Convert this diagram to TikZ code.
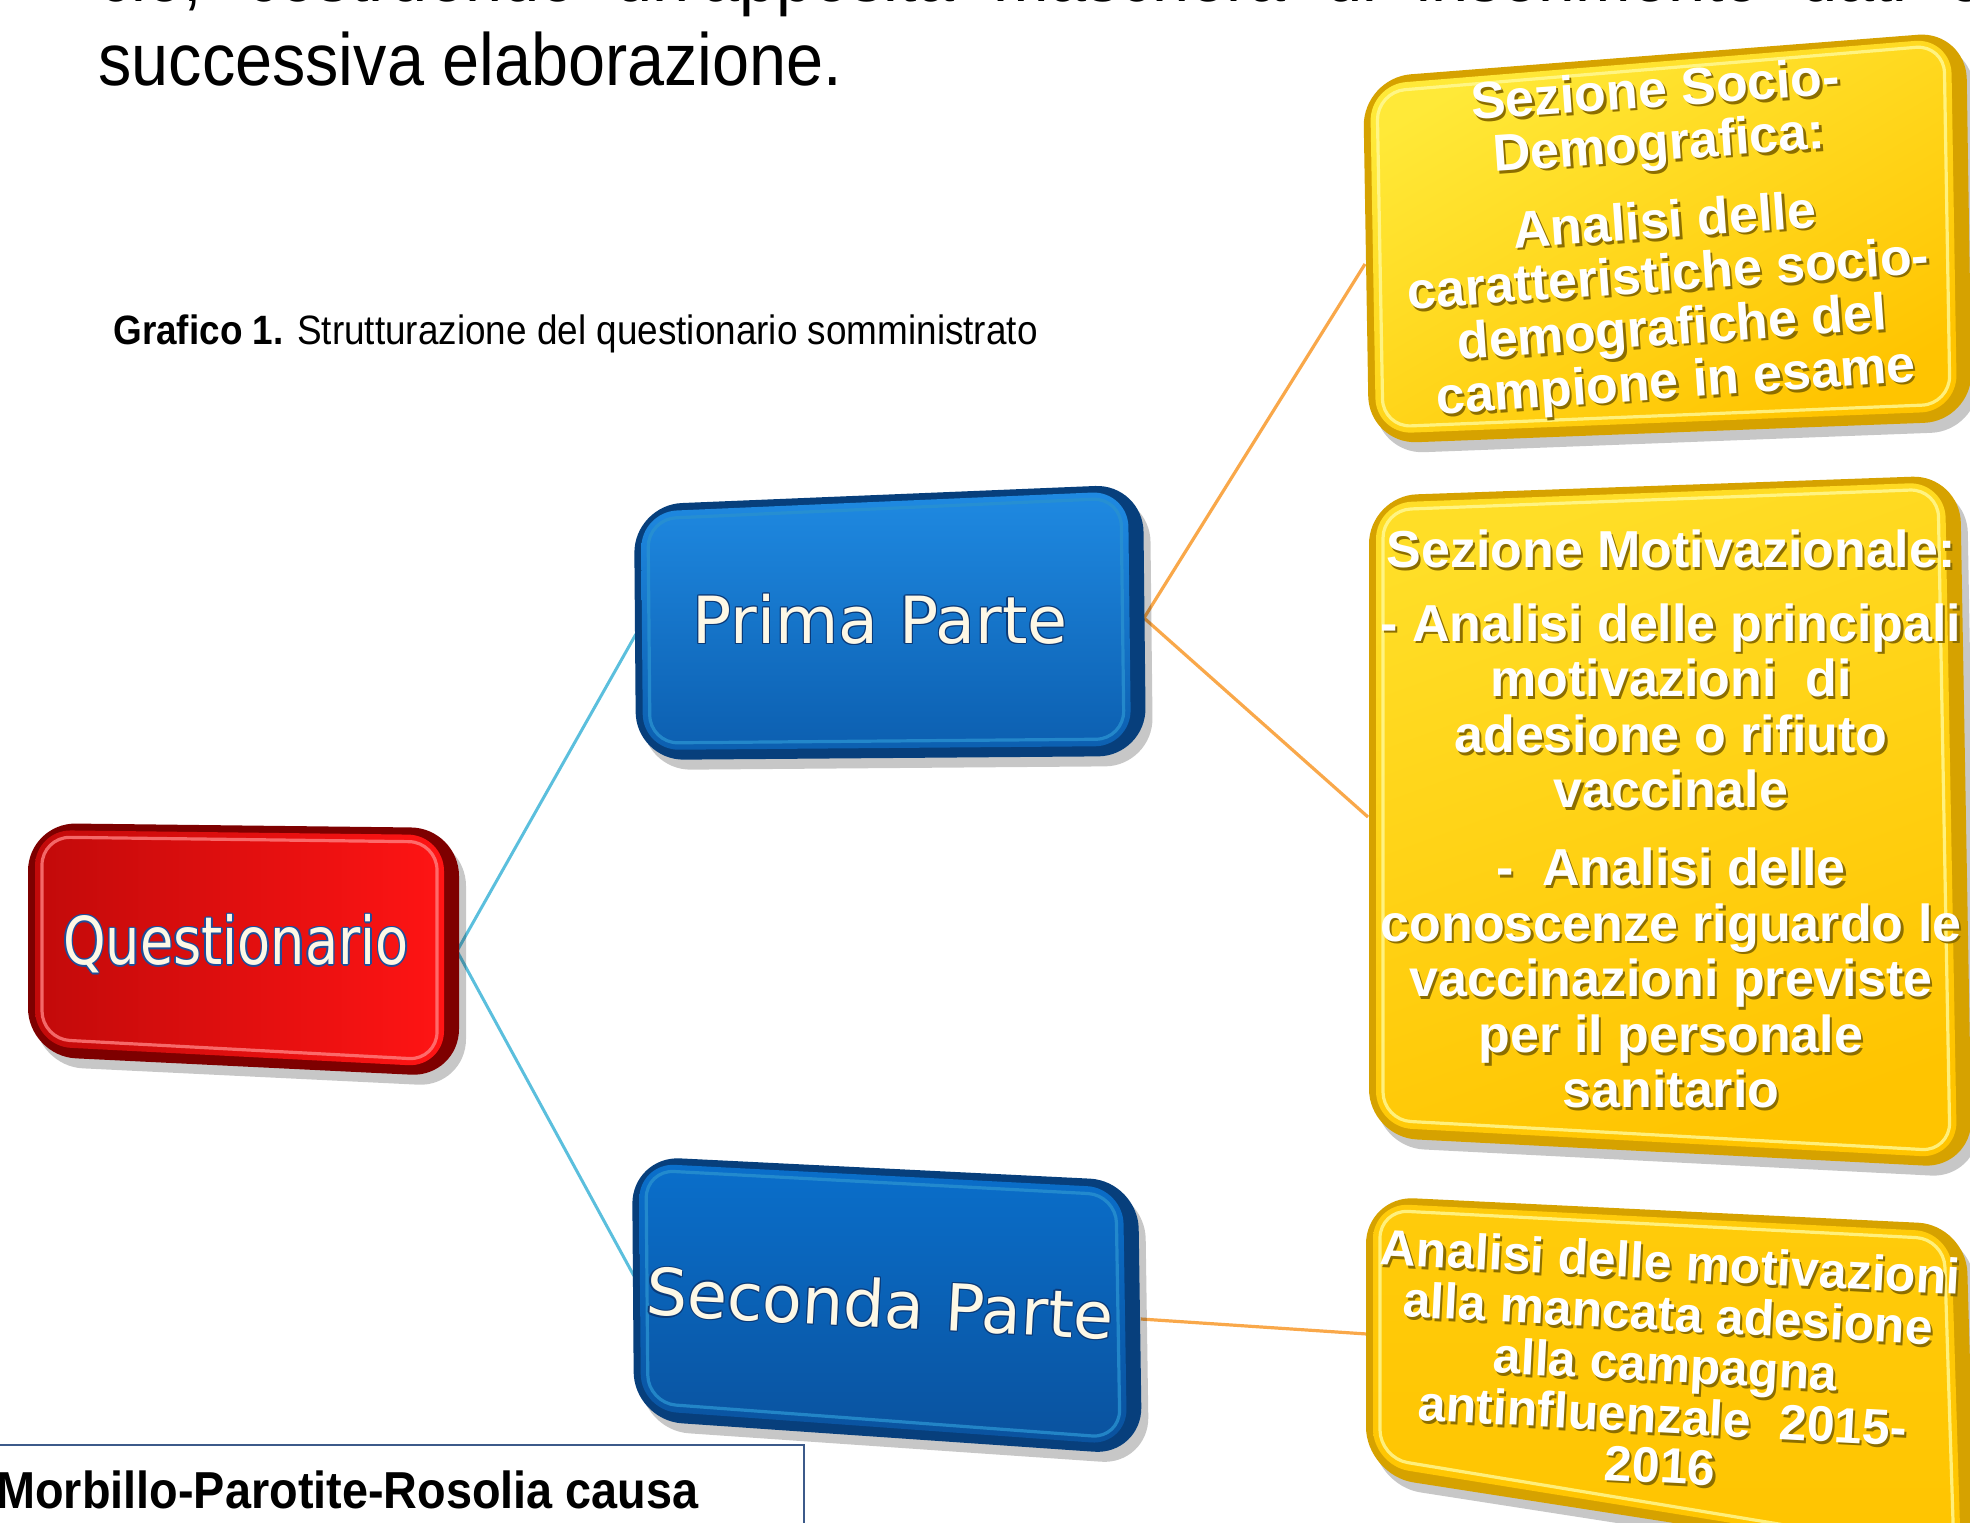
\documentclass[tikz,border=0pt]{standalone}
\usepackage{fontspec}
\setmainfont{Liberation Sans}
\newfontfamily\docfont[FakeStretch=0.9]{Liberation Sans}
\newfontfamily\boxfont{DejaVu Sans}
\newfontfamily\yfont{Liberation Sans}
\usetikzlibrary{calc}
\definecolor{redEdge}{HTML}{7E0000}
\definecolor{redL}{HTML}{C20A0A}
\definecolor{redR}{HTML}{FF1414}
\definecolor{blueEdge}{HTML}{073F7C}
\definecolor{blueT}{HTML}{1F8AE2}
\definecolor{blueB}{HTML}{0C5FB0}
\definecolor{blueT2}{HTML}{0A6FCB}
\definecolor{blueB2}{HTML}{0A529E}
\definecolor{yelEdge}{HTML}{D6A200}
\definecolor{yelT}{HTML}{FFE938}
\definecolor{yelB}{HTML}{FFC400}
\definecolor{yshC}{HTML}{8C6E00}
\definecolor{cyanL}{HTML}{5BBFDD}
\definecolor{orgL}{HTML}{F9A84A}
\definecolor{cream}{HTML}{FDF8E6}
\definecolor{outlB}{HTML}{1F4E9A}
\definecolor{outlN}{HTML}{0B3A78}
\definecolor{frameB}{HTML}{3C5A8A}
\newlength\olw
\newcommand\ocp[3]{\makebox[0pt][l]{\hspace*{#1}\raisebox{#2}{#3}}}
\newcommand\outl[4]{\setlength\olw{#1}%
 {\color{#2}\ocp{\olw}{0pt}{#4}\ocp{-\olw}{0pt}{#4}\ocp{0pt}{\olw}{#4}\ocp{0pt}{-\olw}{#4}%
 \ocp{.7\olw}{.7\olw}{#4}\ocp{-.7\olw}{.7\olw}{#4}\ocp{.7\olw}{-.7\olw}{#4}\ocp{-.7\olw}{-.7\olw}{#4}}%
 {\color{#3}#4}}
% white multi-line text with a dark drop shadow, in one box
\newcommand\ysh[1]{%
 \makebox[0pt][l]{\hspace*{1.1pt}\raisebox{-1.4pt}{\color{yshC}\begin{tabular}{@{}c@{}}#1\end{tabular}}}%
 \begin{tabular}{@{}c@{}}#1\end{tabular}}
\newcommand\tdbox[6]{%
 \fill[black,opacity=.22,rounded corners=24] ($#1+(7,10)$) -- ($#2+(7,10)$) -- ($#3+(7,10)$) -- ($#4+(7,10)$) -- cycle;
 \fill[#5,rounded corners=24] #1 -- #2 -- #3 -- #4 -- cycle;
 \shade[#6,rounded corners=18] ($#1+(7,7)$) -- ($#2+(-15,7)$) -- ($#3+(-15,-10)$) -- ($#4+(7,-10)$) -- cycle;}
\newcommand\tdhl[5]{%
 \draw[#5,line width=1.6,rounded corners=14,opacity=.8] ($#1+(14,14)$) -- ($#2+(-22,14)$) -- ($#3+(-22,-17)$) -- ($#4+(14,-17)$) -- cycle;}
\tikzset{
  doc/.style={inner sep=0,anchor=base west},
  ylab/.style={font=\yfont\bfseries\fontsize{26}{26.5}\selectfont,text=white,inner sep=0},
  bluelab/.style={font=\boxfont\fontsize{32.5}{36}\selectfont,inner sep=0},
  cyanconn/.style={cyanL,line width=1.5},
  orgconn/.style={orgL,line width=1.6}
}
\begin{document}
\begin{tikzpicture}[x=0.5pt,y=-0.5pt]
\useasboundingbox (0,0) rectangle (1970,1522);
\clip (0,0) rectangle (1970,1522);
\fill[white] (0,0) rectangle (1970,1522);

% document text
\node[doc,font=\docfont\fontsize{37}{40}\selectfont] (l0) at (98,1) {\makebox[943pt][s]{ciò, costruendo un'apposita maschera di inserimento dati e}};
\node[doc,font=\docfont\fontsize{37}{40}\selectfont] (l1) at (98,85) {successiva elaborazione.};
\node[doc,font=\docfont\fontsize{20.5}{24}\selectfont] (cap) at (113,344) {\textbf{Grafico 1.} Strutturazione del questionario somministrato};
\draw[frameB,line width=0.8] (-5,1445) rectangle (804,1545);
\node[doc,font=\docfont\bfseries\fontsize{26}{30}\selectfont] (mpr) at (-4,1508) {Morbillo-Parotite-Rosolia causa};

% connector end points
\coordinate (q-e) at (457,951);
\coordinate (p1-w) at (636,634);
\coordinate (p1-e) at (1144,618);
\coordinate (p2-w) at (634,1276);
\coordinate (p2-e) at (1141,1319);
\coordinate (y1-w) at (1365,264);
\coordinate (y2-w) at (1368,817);
\coordinate (y3-w) at (1367,1334);

% connectors
\draw[cyanconn] (q-e) -- (p1-w);
\draw[cyanconn] (q-e) -- (p2-w);
\draw[orgconn] (p1-e) -- (y1-w);
\draw[orgconn] (p1-e) -- (y2-w);
\draw[orgconn] (p2-e) -- (y3-w);

% red box
\tdbox{(28,823)}{(459,828)}{(459,1077)}{(28,1056)}{redEdge}{left color=redL,right color=redR}
\tdhl{(28,823)}{(459,828)}{(459,1077)}{(28,1056)}{red!50!white}
\node[font=\boxfont\fontsize{33}{36}\selectfont,inner sep=0] (q) at (236,944) {\outl{0.8pt}{outlB}{cream}{\scalebox{0.82}[1]{Questionario}}};

% blue boxes
\tdbox{(634,505)}{(1143,484)}{(1146,756)}{(636,760)}{blueEdge}{top color=blueT,bottom color=blueB}
\tdhl{(634,505)}{(1143,484)}{(1146,756)}{(636,760)}{cyan!40!blueT}
\node[bluelab] (p1) at (880,619) {\outl{0.6pt}{outlN}{cream}{Prima Parte}};

\tdbox{(632,1156)}{(1138,1181)}{(1142,1455)}{(634,1420)}{blueEdge}{top color=blueT2,bottom color=blueB2}
\tdhl{(632,1156)}{(1138,1181)}{(1142,1455)}{(634,1420)}{cyan!40!blueT}
\node[bluelab,rotate=-3] (p2) at (880,1303) {\outl{0.6pt}{outlN}{cream}{Seconda Parte}};

% yellow boxes
\tdbox{(1363,78)}{(1966,31)}{(1972,421)}{(1369,444)}{yelEdge}{top color=yelT,bottom color=yelB,shading angle=30}
\tdhl{(1363,78)}{(1966,31)}{(1972,421)}{(1369,444)}{yellow!40!white}
\node[ylab,rotate=4] (y1) at (1666,243) {\ysh{Sezione Socio-\\Demografica:\\[12pt]Analisi delle\\caratteristiche socio-\\demografiche del\\campione in esame}};

\tdbox{(1369,496)}{(1960,475)}{(1972,1168)}{(1369,1137)}{yelEdge}{top color=yelT!70!yelB,bottom color=yelB,shading angle=20}
\tdhl{(1369,496)}{(1960,475)}{(1972,1168)}{(1369,1137)}{yellow!40!white}
\node[ylab,font=\yfont\bfseries\fontsize{26}{27.8}\selectfont] (y2) at (1671,828) {\ysh{Sezione Motivazionale:\\[9pt]- Analisi delle principali\\motivazioni\ \ di\\adesione o rifiuto\\vaccinale\\[11pt]-\ \ Analisi delle\\conoscenze riguardo le\\vaccinazioni previste\\per il personale\\sanitario}};

\tdbox{(1366,1196)}{(1966,1225)}{(1976,1570)}{(1366,1475)}{yelEdge}{top color=yelB!80!yelT,bottom color=yelB}
\tdhl{(1366,1196)}{(1966,1225)}{(1976,1570)}{(1366,1475)}{yellow!40!white}
\node[ylab,font=\yfont\bfseries\fontsize{25}{25}\selectfont,rotate=-3] (y3) at (1665,1372) {\ysh{Analisi delle motivazioni\\alla mancata adesione\\alla campagna\\antinfluenzale\ \ 2015-\\2016}};
\end{tikzpicture}
\end{document}
